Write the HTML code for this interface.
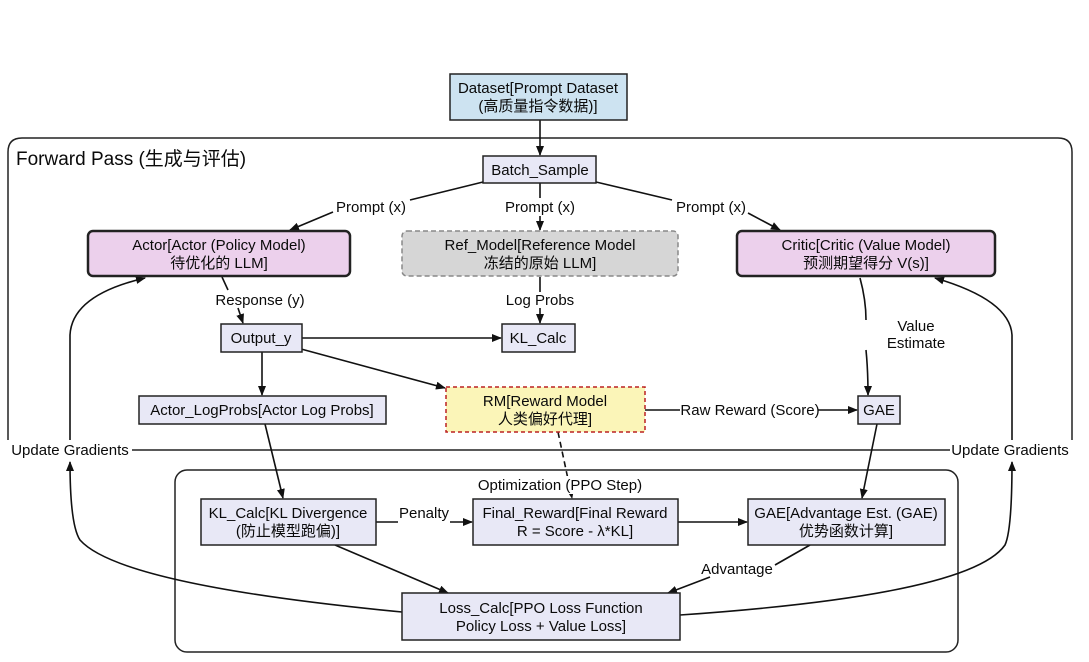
<!DOCTYPE html>
<html><head><meta charset="utf-8"><style>
html,body{margin:0;padding:0;background:#fff;}
svg{display:block;font-family:"Liberation Sans","Noto Sans CJK SC",sans-serif;}
text{font-size:15px;fill:#0a0a0a;}
</style></head><body>
<svg width="1089" height="662" viewBox="0 0 1089 662" xmlns="http://www.w3.org/2000/svg">
<defs>
<marker id="a" markerWidth="10" markerHeight="10" refX="9" refY="5" orient="auto" markerUnits="userSpaceOnUse"><path d="M0,1 L10,5 L0,9 Z" fill="#111"/></marker>
</defs>
<rect width="1089" height="662" fill="#fff"/>
<g fill="none" stroke="#222" stroke-width="1.5">
<path d="M70,450 L1012,450"/>
<path d="M8,440 L8,152 Q8,138 22,138 L1058,138 Q1072,138 1072,152 L1072,440"/>
<rect x="175" y="470" width="783" height="182" rx="12"/>
</g>
<g fill="none" stroke="#111" stroke-width="1.6">
<path d="M540,120 L540,155" marker-end="url(#a)"/>
<path d="M483,182 L410,200"/><path d="M333,212 L290,230" marker-end="url(#a)"/>
<path d="M540,183 L540,198"/><path d="M540,216 L540,230" marker-end="url(#a)"/>
<path d="M596,182 L672,200"/><path d="M748,213 L780,230" marker-end="url(#a)"/>
<path d="M222,277 L228,290"/><path d="M238,308 L243,323" marker-end="url(#a)"/>
<path d="M540,277 L540,292"/><path d="M540,308 L540,323" marker-end="url(#a)"/>
<path d="M302,338 L501,338" marker-end="url(#a)"/>
<path d="M262,352 L262,395" marker-end="url(#a)"/>
<path d="M290,346 L445,388" marker-end="url(#a)"/>
<path d="M860,278 Q866,300 866,320"/><path d="M866,350 Q868,370 868,395" marker-end="url(#a)"/>
<path d="M645,410 L680,410"/><path d="M818,410 L857,410" marker-end="url(#a)"/>
<path d="M877,424 L862,498" marker-end="url(#a)"/>
<path d="M265,424 L283,498" marker-end="url(#a)"/>
<path d="M558,432 L572,498" stroke-dasharray="6,4" marker-end="url(#a)"/>
<path d="M376,522 L398,522"/><path d="M450,522 L472,522" marker-end="url(#a)"/>
<path d="M678,522 L747,522" marker-end="url(#a)"/>
<path d="M335,545 L448,593" marker-end="url(#a)"/>
<path d="M810,545 L775,565"/><path d="M710,577 L668,593" marker-end="url(#a)"/>
<path d="M70,440 L70,335 Q72,295 145,278" marker-end="url(#a)"/>
<path d="M402,612 Q120,585 80,540 Q70,525 70,462" marker-start="url(#a)" marker-end="url(#a)"/>
<path d="M1012,440 L1012,335 Q1010,300 935,278" marker-end="url(#a)"/>
<path d="M680,615 Q970,595 1005,545 Q1012,530 1012,462" marker-start="url(#a)" marker-end="url(#a)"/>
</g>
<g stroke="#222" stroke-width="1.5">
<rect x="450" y="74" width="177" height="46" fill="#cde3f1"/>
<rect x="483" y="156" width="113" height="27" fill="#e8e8f6"/>
<rect x="88" y="231" width="262" height="45" rx="5" fill="#ecd0ec" stroke-width="2.5"/>
<rect x="402" y="231" width="276" height="45" rx="5" fill="#d6d6d6" stroke="#888" stroke-dasharray="5,3"/>
<rect x="737" y="231" width="258" height="45" rx="5" fill="#ecd0ec" stroke-width="2.5"/>
<rect x="221" y="324" width="81" height="28" fill="#e8e8f6"/>
<rect x="502" y="324" width="73" height="28" fill="#e8e8f6"/>
<rect x="139" y="396" width="247" height="28" fill="#e8e8f6"/>
<rect x="446" y="387" width="199" height="45" fill="#fbf5b8" stroke="#b22" stroke-dasharray="4,3"/>
<rect x="858" y="396" width="42" height="28" fill="#e8e8f6"/>
<rect x="201" y="499" width="175" height="46" fill="#e8e8f6"/>
<rect x="473" y="499" width="205" height="46" fill="#e8e8f6"/>
<rect x="748" y="499" width="197" height="46" fill="#e8e8f6"/>
<rect x="402" y="593" width="278" height="47" fill="#e8e8f6"/>
</g>
<g fill="#fff">
<rect x="10" y="440" width="122" height="20"/><rect x="950" y="440" width="122" height="20"/>
<rect x="478" y="476" width="166" height="18"/>
</g>
<g text-anchor="middle">
<text x="538" y="93">Dataset[Prompt Dataset</text><text x="538" y="111">(高质量指令数据)]</text>
<text x="540" y="175">Batch_Sample</text>
<text x="219" y="250">Actor[Actor (Policy Model)</text><text x="219" y="268">待优化的 LLM]</text>
<text x="540" y="250">Ref_Model[Reference Model</text><text x="540" y="268">冻结的原始 LLM]</text>
<text x="866" y="250">Critic[Critic (Value Model)</text><text x="866" y="268">预测期望得分 V(s)]</text>
<text x="371" y="212">Prompt (x)</text><text x="540" y="212">Prompt (x)</text><text x="711" y="212">Prompt (x)</text>
<text x="260" y="305">Response (y)</text><text x="540" y="305">Log Probs</text>
<text x="916" y="331">Value</text><text x="916" y="348">Estimate</text>
<text x="261" y="343">Output_y</text><text x="538" y="343">KL_Calc</text>
<text x="262" y="415">Actor_LogProbs[Actor Log Probs]</text>
<text x="545" y="406">RM[Reward Model</text><text x="545" y="424">人类偏好代理]</text>
<text x="750" y="415">Raw Reward (Score)</text>
<text x="879" y="415">GAE</text>
<text x="70" y="455">Update Gradients</text><text x="1010" y="455">Update Gradients</text>
<text x="560" y="490">Optimization (PPO Step)</text>
<text x="288" y="518">KL_Calc[KL Divergence</text><text x="288" y="536">(防止模型跑偏)]</text>
<text x="424" y="518">Penalty</text>
<text x="575" y="518">Final_Reward[Final Reward</text><text x="575" y="536">R = Score - λ*KL]</text>
<text x="846" y="518">GAE[Advantage Est. (GAE)</text><text x="846" y="536">优势函数计算]</text>
<text x="737" y="574">Advantage</text>
<text x="541" y="613">Loss_Calc[PPO Loss Function</text><text x="541" y="631">Policy Loss + Value Loss]</text>
</g>
<text x="16" y="165" style="font-size:19px">Forward Pass (生成与评估)</text>
</svg>
</body></html>
